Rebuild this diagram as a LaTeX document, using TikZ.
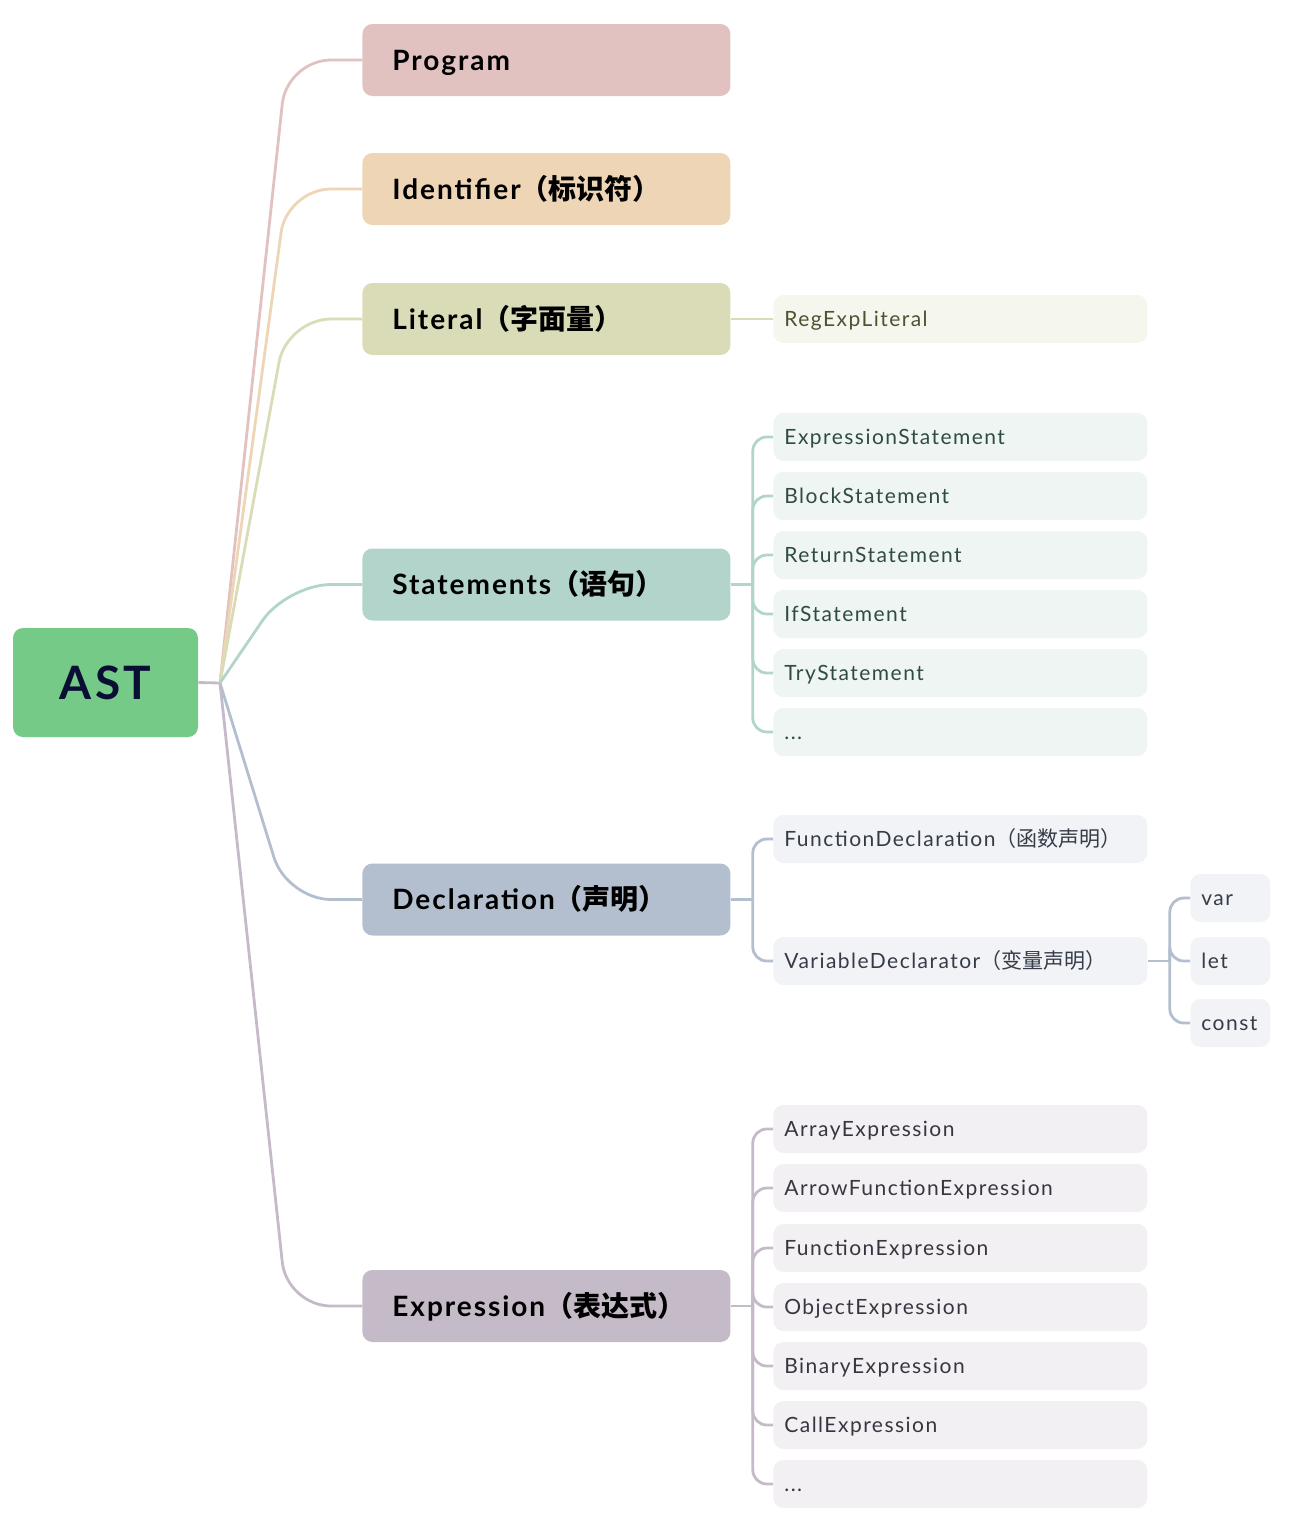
\documentclass[tikz,border=0pt]{standalone}
\usepackage{fontspec}
\setmainfont{Lato}[LetterSpace=7]
\newfontfamily\cjk{Noto Sans CJK SC}
\newcommand{\zh}[1]{{\cjk #1}}
\definecolor{cAST}{HTML}{76CA88}
\definecolor{cASTt}{HTML}{0B0E33}
\definecolor{cProg}{HTML}{E1C2C1}
\definecolor{cIden}{HTML}{EED5B5}
\definecolor{cLit}{HTML}{D9DCB6}
\definecolor{cLitF}{HTML}{F5F7EE}
\definecolor{cLitT}{HTML}{4B5331}
\definecolor{cStm}{HTML}{B2D4CB}
\definecolor{cStmF}{HTML}{EFF5F3}
\definecolor{cStmT}{HTML}{2F4B43}
\definecolor{cDec}{HTML}{B3BFCF}
\definecolor{cDecF}{HTML}{F1F3F6}
\definecolor{cDecT}{HTML}{353C48}
\definecolor{cExp}{HTML}{C5BAC8}
\definecolor{cExpF}{HTML}{F2F0F3}
\definecolor{cExpT}{HTML}{3A3440}
\tikzset{
  lone/.style={anchor=west, rounded corners=5pt, minimum height=36pt,
    text width=154pt, inner xsep=15pt, inner ysep=0pt, align=left,
    text height=10.1pt, text depth=0pt,
    font=\fontsize{14}{16}\selectfont\bfseries, text=black},
  ltwo/.style={anchor=west, rounded corners=5pt, minimum height=24pt,
    text width=176pt, inner xsep=5.5pt, inner ysep=0pt, align=left,
    text height=7.6pt, text depth=0pt,
    font=\fontsize{10.5}{12}\selectfont},
  lthree/.style={ltwo, text width=29pt},
  conn/.style={line width=1.4pt, rounded corners=22pt},
  brk/.style={line width=1.4pt, rounded corners=7pt},
}
\begin{document}
\begin{tikzpicture}[x=0.5pt,y=-0.5pt]
\useasboundingbox (0,0) rectangle (1312,1528);
% root
\node[fill=cAST, rounded corners=5pt, minimum width=92.5pt, minimum height=54.5pt,
  inner sep=0pt, text height=16.6pt, text depth=0pt, text=cASTt,
  font=\fontsize{23}{26}\selectfont\bfseries] (ast) at (105.5,682.5) {AST};
\coordinate (rt) at (220,683);
% level 1
\node[lone, fill=cProg] (prog) at (362,60) {Program};
\node[lone, fill=cIden] (iden) at (362,189) {Identifier\zh{（标识符）}};
\node[lone, fill=cLit] (lit) at (362,319) {Literal\zh{（字面量）}};
\node[lone, fill=cStm] (stm) at (362,584.5) {Statements\zh{（语句）}};
\node[lone, fill=cDec] (dec) at (362,899.5) {Declaration\zh{（声明）}};
\node[lone, fill=cExp] (exp) at (362,1306) {Expression\zh{（表达式）}};
% level 2
\node[ltwo, fill=cLitF, text=cLitT] (rel) at (773,319) {RegExpLiteral};
\node[ltwo, fill=cStmF, text=cStmT] (s1) at (773,437) {ExpressionStatement};
\node[ltwo, fill=cStmF, text=cStmT] (s2) at (773,496) {BlockStatement};
\node[ltwo, fill=cStmF, text=cStmT] (s3) at (773,555) {ReturnStatement};
\node[ltwo, fill=cStmF, text=cStmT] (s4) at (773,614) {IfStatement};
\node[ltwo, fill=cStmF, text=cStmT] (s5) at (773,673) {TryStatement};
\node[ltwo, fill=cStmF, text=cStmT] (s6) at (773,732) {...};
\node[ltwo, fill=cDecF, text=cDecT] (d1) at (773,839) {FunctionDeclaration\zh{（函数声明）}};
\node[ltwo, fill=cDecF, text=cDecT] (d2) at (773,961) {VariableDeclarator\zh{（变量声明）}};
\node[lthree, fill=cDecF, text=cDecT] (v1) at (1190,898) {var};
\node[lthree, fill=cDecF, text=cDecT] (v2) at (1190,961) {let};
\node[lthree, fill=cDecF, text=cDecT] (v3) at (1190,1023) {const};
\node[ltwo, fill=cExpF, text=cExpT] (e1) at (773,1129) {ArrayExpression};
\node[ltwo, fill=cExpF, text=cExpT] (e2) at (773,1188) {ArrowFunctionExpression};
\node[ltwo, fill=cExpF, text=cExpT] (e3) at (773,1248) {FunctionExpression};
\node[ltwo, fill=cExpF, text=cExpT] (e4) at (773,1307) {ObjectExpression};
\node[ltwo, fill=cExpF, text=cExpT] (e5) at (773,1366) {BinaryExpression};
\node[ltwo, fill=cExpF, text=cExpT] (e6) at (773,1425) {CallExpression};
\node[ltwo, fill=cExpF, text=cExpT] (e7) at (773,1484) {...};
% root connectors
\draw[conn, cExp] (ast.east) -- (rt);
\draw[conn, cProg] (rt) -- ([xshift=-37.5pt]prog.west) -- (prog.west);
\draw[conn, cIden] (rt) -- ([xshift=-37.5pt]iden.west) -- (iden.west);
\draw[conn, cLit] (rt) -- ([xshift=-37.5pt]lit.west) -- (lit.west);
\draw[conn, cStm] (rt) -- ([xshift=-37.5pt]stm.west) -- (stm.west);
\draw[conn, cDec] (rt) -- ([xshift=-37.5pt]dec.west) -- (dec.west);
\draw[conn, cExp] (rt) -- ([xshift=-37.5pt]exp.west) -- (exp.west);
% literal
\draw[brk, cLit] (lit.east) -- (rel.west);
% statements
\coordinate (sb) at ([xshift=11pt]stm.east);
\draw[brk, cStm] (stm.east) -- (sb);
\foreach \n in {s1,s2,s3,s4,s5,s6} \draw[brk, cStm] (sb) |- (\n.west);
% declaration
\coordinate (db) at ([xshift=11pt]dec.east);
\draw[brk, cDec] (dec.east) -- (db);
\foreach \n in {d1,d2} \draw[brk, cDec] (db) |- (\n.west);
\coordinate (vb) at ([xshift=11pt]d2.east);
\draw[brk, cDec] (d2.east) -- (vb);
\foreach \n in {v1,v2,v3} \draw[brk, cDec] (vb) |- (\n.west);
% expression
\coordinate (eb) at ([xshift=11pt]exp.east);
\draw[brk, cExp] (exp.east) -- (eb);
\foreach \n in {e1,e2,e3,e4,e5,e6,e7} \draw[brk, cExp] (eb) |- (\n.west);
\end{tikzpicture}
\end{document}
